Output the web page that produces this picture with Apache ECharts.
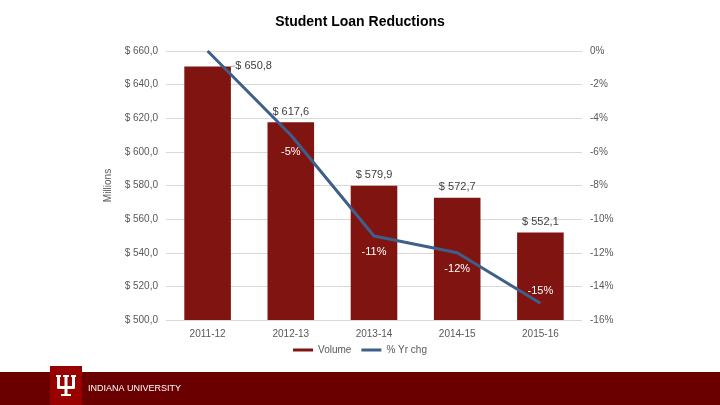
<!DOCTYPE html>
<html><head><meta charset="utf-8">
<script src="https://cdn.jsdelivr.net/npm/echarts@6/dist/echarts.min.js"></script>
<style>html,body{margin:0;padding:0;background:#fff}#c{width:720px;height:405px}</style>
</head><body><div id="c"></div>
<script>
const categories = ['2011-12', '2012-13', '2013-14', '2014-15', '2015-16'];
const volume = [650.8, 617.6, 579.9, 572.7, 552.1];
const yrChg = [0, -5, -11, -12, -15];
const leftTicks = [500, 520, 540, 560, 580, 600, 620, 640, 660];
const rightTicks = [-16, -14, -12, -10, -8, -6, -4, -2, 0];

const txt = '#595959';
const font = 'Liberation Sans, Arial, sans-serif';
const chart = echarts.init(document.getElementById('c'));
const lineLabelPos = ['bottom', 'bottom', 'bottom', 'bottom', 'top'];

chart.setOption({
  animation: false,
  textStyle: { fontFamily: font },
  title: { text: 'Student Loan Reductions', left: 'center', top: 10,
    textStyle: { fontSize: 14, fontWeight: 'bold', color: '#000', fontFamily: font } },
  grid: { left: 166, right: 138, top: 51, bottom: 85 },
  legend: { bottom: 45, left: 'center', itemWidth: 20, itemHeight: 3, itemGap: 10,
    textStyle: { color: txt, fontSize: 10 },
    data: [{ name: 'Volume', icon: 'rect' }, { name: '% Yr chg', icon: 'rect' }] },
  xAxis: { type: 'category', data: categories,
    axisLine: { lineStyle: { color: '#d9d9d9' } }, axisTick: { show: false },
    axisLabel: { color: txt, fontSize: 10, margin: 9 } },
  yAxis: [
    { type: 'value', min: leftTicks[0], max: leftTicks[leftTicks.length - 1], interval: 20,
      name: 'Millions', nameLocation: 'middle', nameGap: 48, nameRotate: 90,
      nameTextStyle: { color: txt, fontSize: 10 },
      axisLabel: { color: txt, fontSize: 10, margin: 8, formatter: v => '$ ' + v.toFixed(1).replace('.', ',') },
      splitLine: { lineStyle: { color: '#d9d9d9' } } },
    { type: 'value', min: rightTicks[0], max: rightTicks[rightTicks.length - 1], interval: 2,
      axisLabel: { color: txt, fontSize: 10, margin: 8, formatter: v => v + '%' },
      splitLine: { show: false } }
  ],
  series: [
    { name: 'Volume', type: 'bar', barWidth: '56%',
      data: volume.map((v, i) => ({ value: v,
        labelLine: { show: i === 0, lineStyle: { color: '#a6a6a6', width: 1 } } })),
      itemStyle: { color: '#7f1410' },
      label: { show: true, position: 'top', color: '#404040', fontSize: 11,
        formatter: p => '$ ' + p.value.toFixed(1).replace('.', ',') },
      labelLayout: p => p.dataIndex === 0 ? { dx: 46, dy: 10 } : {} },
    { name: '% Yr chg', type: 'line', yAxisIndex: 1, data: yrChg.map((v, i) => ({
        value: v,
        label: { show: i > 0, position: lineLabelPos[i], distance: i === 4 ? 7 : 11 } })),
      symbol: 'circle', symbolSize: 0, showSymbol: true,
      lineStyle: { color: '#3e5f8a', width: 3 }, itemStyle: { color: '#3e5f8a' },
      label: { color: '#fff', fontSize: 11, formatter: p => p.value + '%' }, z: 5 }
  ],
  graphic: [
    { type: 'rect', shape: { x: 0, y: 372, width: 720, height: 33 }, style: { fill: '#6b0000' } },
    { type: 'rect', shape: { x: 50, y: 366, width: 32, height: 39 }, style: { fill: '#990000' } },
    { type: 'group', children: [
      { type: 'rect', shape: { x: 57, y: 376, width: 3, height: 12 }, style: { fill: '#fff' } },
      { type: 'rect', shape: { x: 72, y: 376, width: 3, height: 12 }, style: { fill: '#fff' } },
      { type: 'rect', shape: { x: 56, y: 375, width: 5, height: 2 }, style: { fill: '#fff' } },
      { type: 'rect', shape: { x: 71, y: 375, width: 5, height: 2 }, style: { fill: '#fff' } },
      { type: 'rect', shape: { x: 63, y: 375, width: 6, height: 2 }, style: { fill: '#fff' } },
      { type: 'rect', shape: { x: 64.5, y: 375, width: 3, height: 20 }, style: { fill: '#fff' } },
      { type: 'rect', shape: { x: 57, y: 386, width: 18, height: 3, r: 2 }, style: { fill: '#fff' } },
      { type: 'rect', shape: { x: 61, y: 394, width: 10, height: 2 }, style: { fill: '#fff' } }
    ]},
    { type: 'text', left: 88, top: 384, style: { text: 'INDIANA UNIVERSITY', fill: '#fff', fontSize: 9, fontFamily: font } }
  ]
});
</script></body></html>
